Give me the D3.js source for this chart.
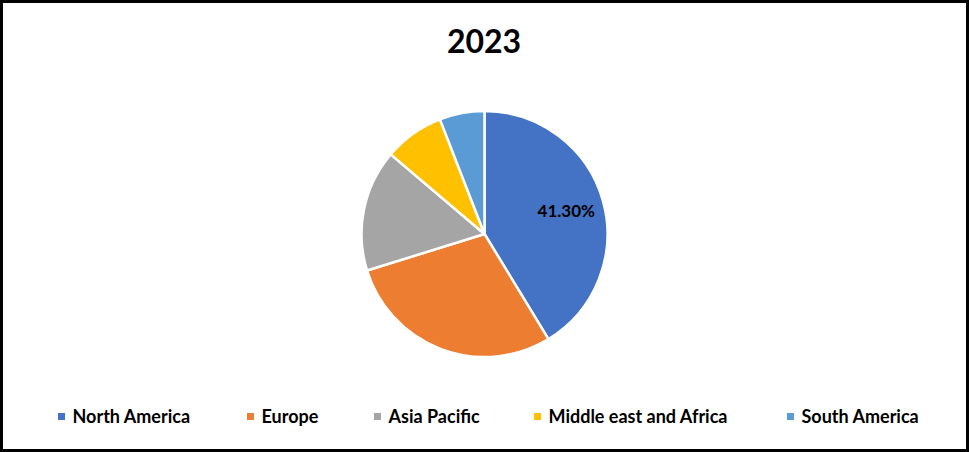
<!DOCTYPE html>
<html>
<head>
  <meta charset="UTF-8">
  <style>
    body { margin: 0; background: #fff; }
    svg { display: block; font-family: Lato, "Open Sans", sans-serif; }
  </style>
</head>
<body>
<svg></svg>
<script src="https://d3js.org/d3.v7.min.js"></script>
<script>

let width = 969, height = 452;

// chart data
const regions = ["North America", "Europe", "Asia Pacific", "Middle east and Africa", "South America"];
const shares = [41.3, 28.9, 16.0, 7.9, 5.9];
const colors = ["#4472C4", "#ED7D31", "#A5A5A5", "#FFC000", "#5B9BD5"];
const labelled = ["North America"];
const title = "2023";

let svg = d3.select("svg")
    .attr("width", width)
    .attr("height", height);

// outer frame
svg.append("rect")
    .attr("x", 1.5).attr("y", 1.5)
    .attr("width", width - 3).attr("height", height - 3)
    .attr("fill", "#fff")
    .attr("stroke", "#000")
    .attr("stroke-width", 3);

svg.append("text")
    .attr("x", 484)
    .attr("y", 53)
    .attr("text-anchor", "middle")
    .style("font-size", "32px")
    .style("font-weight", "bold")
    .text(title);

let cx = 484.5, cy = 234, r = 123;

let color = d3.scaleOrdinal().domain(regions).range(colors);

let pie = d3.pie().sort(null).value(d => d.v);
let arcs = pie(regions.map((name, i) => ({ name: name, v: shares[i] })));

let arc = d3.arc().innerRadius(0).outerRadius(r);
let labelArc = d3.arc().innerRadius(r * 0.69).outerRadius(r * 0.69);

let g = svg.append("g").attr("transform", `translate(${cx},${cy})`);

g.selectAll("path")
    .data(arcs)
    .enter()
    .append("path")
    .attr("d", arc)
    .attr("fill", d => color(d.data.name))
    .attr("stroke", "#fff")
    .attr("stroke-width", 2.5)
    .attr("stroke-linejoin", "round");

g.selectAll("text")
    .data(arcs.filter(d => labelled.includes(d.data.name)))
    .enter()
    .append("text")
    .attr("transform", d => `translate(${labelArc.centroid(d)})`)
    .attr("text-anchor", "middle")
    .attr("dy", "0.35em")
    .style("font-size", "17px")
    .style("font-weight", "bold")
    .text(d => d.data.v.toFixed(2) + "%");

// legend
const legendX = [58, 247, 374, 534, 787];
let legend = svg.append("g")
    .selectAll("g")
    .data(regions)
    .enter()
    .append("g")
    .attr("transform", (d, i) => `translate(${legendX[i]},0)`);

legend.append("rect")
    .attr("x", 0).attr("y", 413)
    .attr("width", 7).attr("height", 7)
    .attr("fill", d => color(d));

legend.append("text")
    .attr("x", 14.5)
    .attr("y", 422.5)
    .style("font-size", "18px")
    .style("font-weight", "bold")
    .text(d => d);

</script>
</body>
</html>
